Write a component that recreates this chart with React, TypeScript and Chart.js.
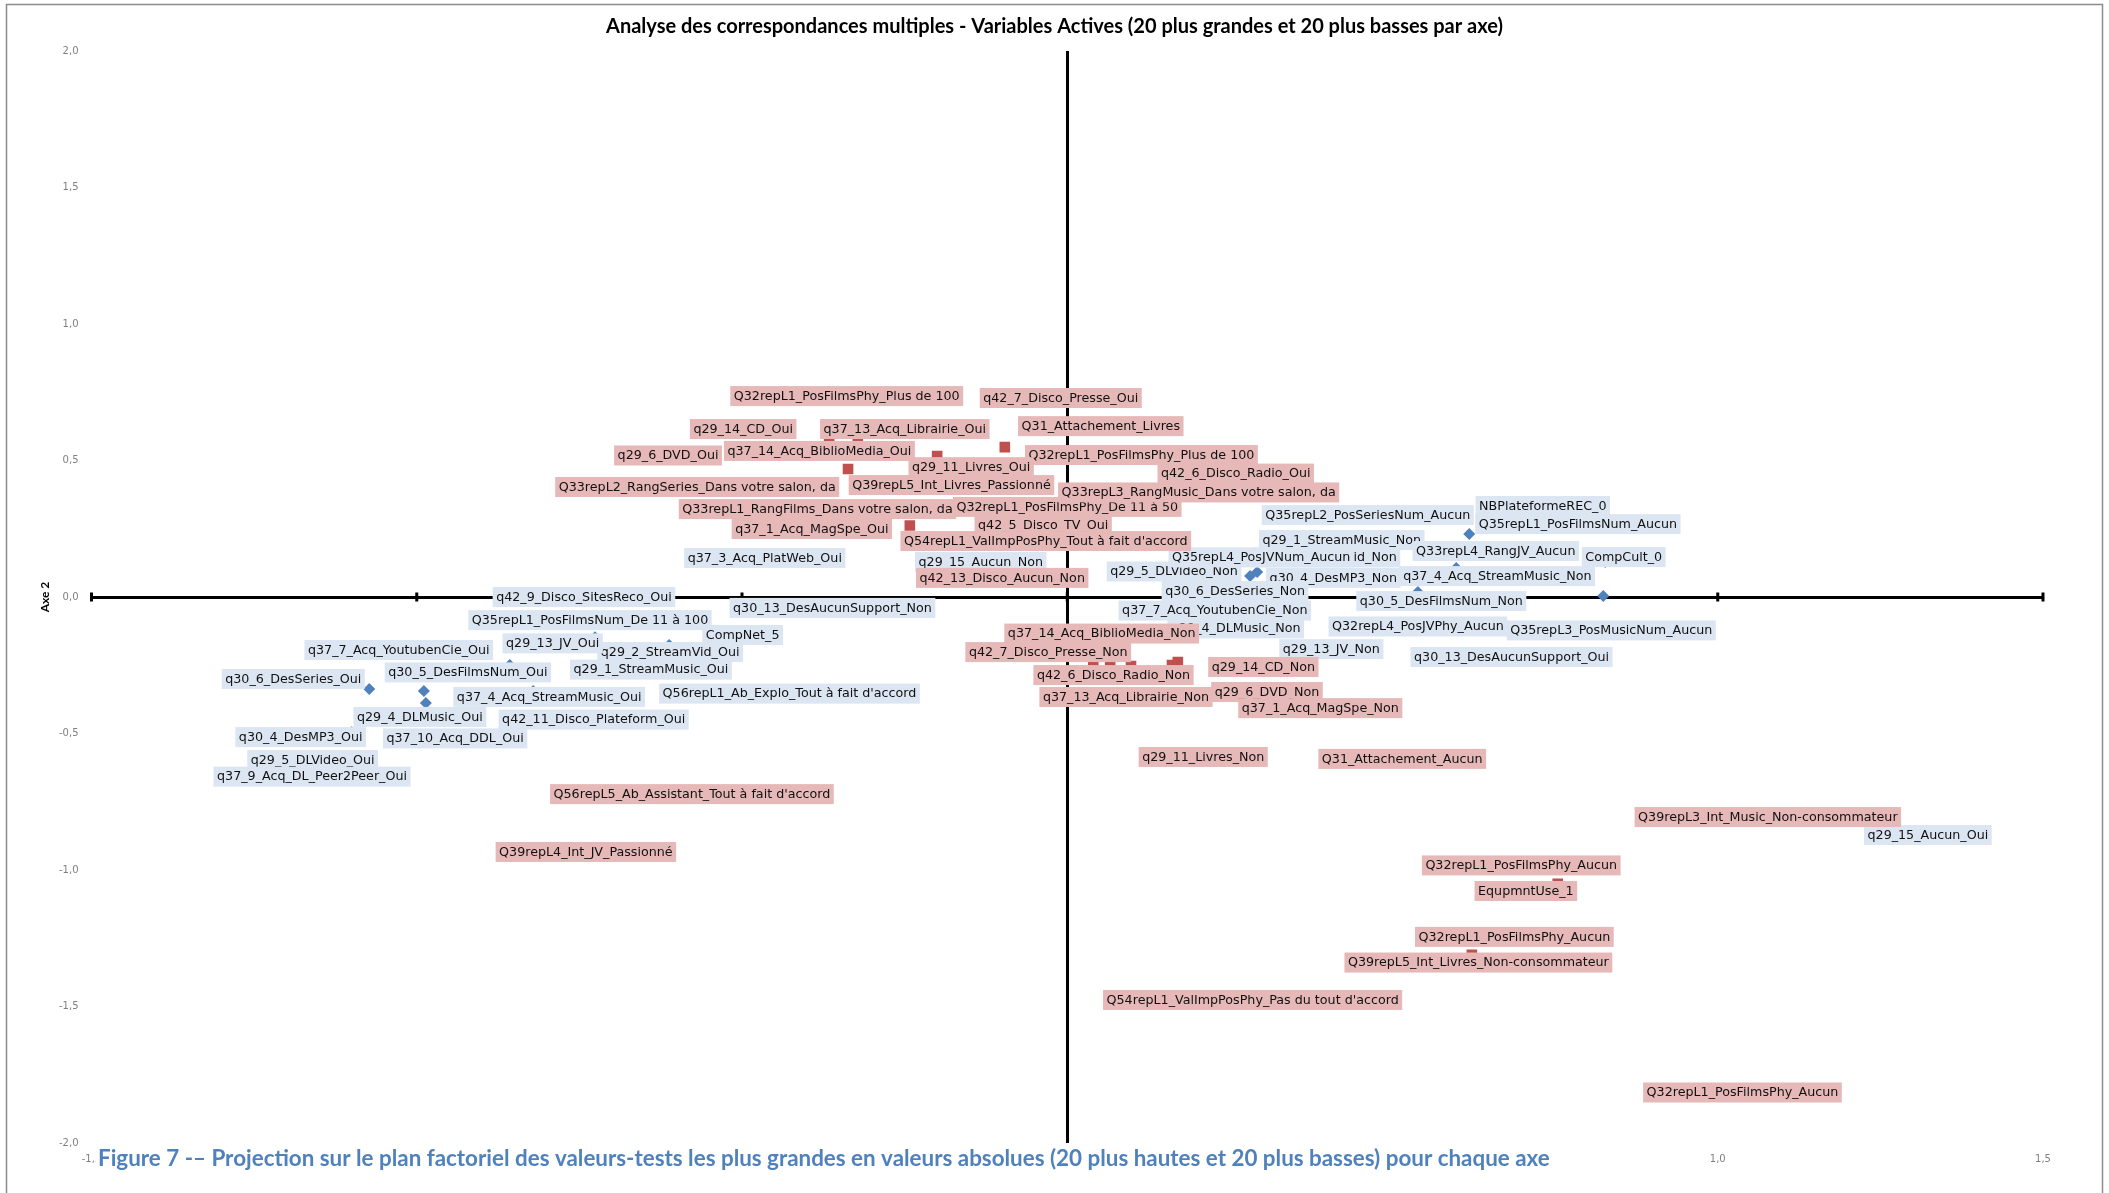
import React, { useEffect, useRef } from "react";
import { Chart, registerables } from "chart.js";

Chart.register(...registerables);

// ---------- texts ----------
const chartTitle =
  "Analyse des correspondances multiples - Variables Actives (20 plus grandes et 20 plus basses par axe)";
const figureCaption =
  "Figure 7 -– Projection sur le plan factoriel des valeurs-tests les plus grandes en valeurs absolues (20 plus hautes et 20 plus basses) pour chaque axe";
const yAxisTitle = "Axe 2";

// ---------- tick labels ----------
const xTickLabels = ["-1,5", "-1,0", "-0,5", "0,0", "0,5", "1,0", "1,5"];
const yTickLabels = ["-2,0", "-1,5", "-1,0", "-0,5", "0,0", "0,5", "1,0", "1,5", "2,0"];

// ---------- blue series ----------
const blueNames = [
  "q37_3_Acq_PlatWeb_Oui",
  "q29_15_Aucun_Non",
  "q42_9_Disco_SitesReco_Oui",
  "q30_13_DesAucunSupport_Non",
  "Q35repL1_PosFilmsNum_De 11 à 100",
  "CompNet_5",
  "q29_2_StreamVid_Oui",
  "q29_13_JV_Oui",
  "q37_7_Acq_YoutubenCie_Oui",
  "q29_1_StreamMusic_Oui",
  "q30_5_DesFilmsNum_Oui",
  "q30_6_DesSeries_Oui",
  "Q56repL1_Ab_Explo_Tout à fait d'accord",
  "q37_4_Acq_StreamMusic_Oui",
  "q29_4_DLMusic_Oui",
  "q42_11_Disco_Plateform_Oui",
  "q30_4_DesMP3_Oui",
  "q37_10_Acq_DDL_Oui",
  "q29_5_DLVideo_Oui",
  "q37_9_Acq_DL_Peer2Peer_Oui",
  "Q35repL2_PosSeriesNum_Aucun",
  "NBPlateformeREC_0",
  "Q35repL1_PosFilmsNum_Aucun",
  "q29_1_StreamMusic_Non",
  "Q33repL4_RangJV_Aucun",
  "CompCult_0",
  "q29_2_StreamVid_Non",
  "q29_5_DLVideo_Non",
  "q30_4_DesMP3_Non",
  "Q35repL4_PosJVNum_Aucun",
  "q37_4_Acq_StreamMusic_Non",
  "q30_6_DesSeries_Non",
  "q30_5_DesFilmsNum_Non",
  "q37_7_Acq_YoutubenCie_Non",
  "q29_4_DLMusic_Non",
  "Q32repL4_PosJVPhy_Aucun",
  "Q35repL3_PosMusicNum_Aucun",
  "q29_13_JV_Non",
  "q30_13_DesAucunSupport_Oui",
  "q29_15_Aucun_Oui",
];
const blueAxe1 = [
  -0.465, -0.133, -0.743, -0.361, -0.726, -0.499, -0.612, -0.791, -0.857, -0.64,
  -0.989, -1.073, -0.427, -0.821, -0.986, -0.728, -1.1, -0.941, -1.16, -1.161,
  0.462, 0.618, 0.785, 0.435, 0.598, 0.827, 0.397, 0.281, 0.409, 0.292,
  0.539, 0.178, 0.575, 0.246, 0.259, 0.539, 0.824, 0.406, 0.683, 1.323,
];
const blueAxe2 = [
  0.143, 0.128, 0.0, -0.04, -0.147, -0.139, -0.176, -0.17, -0.249, -0.266,
  -0.344, -0.337, -0.354, -0.344, -0.388, -0.449, -0.495, -0.518, -0.597, -0.658,
  0.3, 0.231, 0.267, 0.161, 0.106, 0.128, 0.145, 0.077, 0.07, 0.092,
  0.018, 0.033, -0.015, 0.029, -0.115, -0.108, 0.004, -0.191, -0.22, -0.872,
];

// ---------- red series ----------
const redNames = [
  "Q32repL1_PosFilmsPhy_Plus de 100",
  "q42_7_Disco_Presse_Oui",
  "q29_14_CD_Oui",
  "q37_13_Acq_Librairie_Oui",
  "Q31_Attachement_Livres",
  "q29_6_DVD_Oui",
  "q37_14_Acq_BiblioMedia_Oui",
  "Q32repL1_PosFilmsPhy_Plus de 100",
  "q29_11_Livres_Oui",
  "q42_6_Disco_Radio_Oui",
  "Q33repL2_RangSeries_Dans votre salon, da",
  "Q39repL5_Int_Livres_Passionné",
  "Q32repL1_PosFilmsPhy_De 11 à 50",
  "Q33repL3_RangMusic_Dans votre salon, da",
  "Q33repL1_RangFilms_Dans votre salon, da",
  "q37_1_Acq_MagSpe_Oui",
  "q42_5_Disco_TV_Oui",
  "Q54repL1_ValImpPosPhy_Tout à fait d'accord",
  "q42_13_Disco_Aucun_Non",
  "q37_14_Acq_BiblioMedia_Non",
  "q42_7_Disco_Presse_Non",
  "q29_14_CD_Non",
  "q42_6_Disco_Radio_Non",
  "q29_6_DVD_Non",
  "q37_13_Acq_Librairie_Non",
  "q37_1_Acq_MagSpe_Non",
  "q29_11_Livres_Non",
  "Q31_Attachement_Aucun",
  "Q56repL5_Ab_Assistant_Tout à fait d'accord",
  "Q39repL4_Int_JV_Passionné",
  "Q39repL3_Int_Music_Non-consommateur",
  "Q32repL1_PosFilmsPhy_Aucun",
  "EqupmntUse_1",
  "Q32repL1_PosFilmsPhy_Aucun",
  "Q39repL5_Int_Livres_Non-consommateur",
  "Q54repL1_ValImpPosPhy_Pas du tout d'accord",
  "Q32repL1_PosFilmsPhy_Aucun",
];
const redAxe1 = [
  -0.339, -0.01, -0.366, -0.322, -0.096, -0.337, -0.381, 0.114, -0.2, 0.259,
  -0.359, -0.178, 0.0, 0.202, -0.384, -0.242, -0.037, -0.033, -0.1, 0.066,
  0.04, 0.17, 0.098, 0.307, 0.161, 0.389, 0.209, 0.515, -0.577, -0.74,
  1.077, 0.754, 0.705, 0.622, 0.632, 0.285, 1.038,
];
const redAxe2 = [
  0.736, 0.729, 0.564, 0.564, 0.549, 0.469, 0.535, 0.52, 0.516, 0.452,
  0.414, 0.41, 0.33, 0.383, 0.322, 0.262, 0.264, 0.205, 0.07, -0.253,
  -0.253, -0.238, -0.253, -0.348, -0.249, -0.407, -0.586, -0.593, -0.722, -0.934,
  -0.806, -1.051, -1.077, -1.311, -1.339, -1.476, -1.815,
];

// ---------- label placement (pixel shift of each data label from its marker) ----------
const blueLabelShift: [number, number][] = [
  [0, 0], [0, 0], [0, 0], [0, 0], [-5, -17], [0, 0], [1, 7], [0, 0], [-111, -15], [0, 0],
  [44, -18.5], [-76, -10], [0, 0], [16, 6], [-6, 14], [0, 0], [-51, 5], [0, 0], [0, 0], [0, 0],
  [0, 0], [73.5, -28], [0, 0], [-8.5, -13], [39.5, -17], [18.5, -5], [0, 0], [-76, -4.5], [0, 0], [4, -14.5],
  [79.5, -16], [52, 3], [0, 0], [-12.5, 21.5], [0, 0], [0, 0], [8, 34.5], [0, 0], [0, 0], [0, 0],
];
const redLabelShift: [number, number][] = [
  [0, 0], [0, 0], [-86, -14], [47, -14], [96, -21], [-180, -13.5], [0, 0], [0, 0], [34, 11], [0, 0],
  [-136.5, 3], [0, 0], [0, 0], [0, 0], [0, 0], [-98, 3.5], [0, 0], [0, 0], [0, 0], [-8.5, -32.5],
  [-45, -14], [85.5, 5], [-17.5, 9], [0, 0], [-46, 32], [0, 0], [0, 0], [0, 0], [0, 0], [0, 0],
  [0, 0], [-36.5, -18.5], [0, 0], [42.5, -18], [0, 0], [0, 0], [0, 0],
];

const BLUE = "#4F81BD";
const RED = "#C0504D";
const BLUE_LABEL_BG = "#DCE6F2";
const RED_LABEL_BG = "#E6B9B8";
const LABEL_FONT = '12.7px "DejaVu Sans"';
const TICK_COLOR = "#7f7f7f";

const series = [
  { names: blueNames, shift: blueLabelShift, bg: BLUE_LABEL_BG },
  { names: redNames, shift: redLabelShift, bg: RED_LABEL_BG },
];

// cross tick marks on the horizontal axis (Excel "cross" major ticks)
const axisCrossTicks = {
  id: "axisCrossTicks",
  beforeDatasetsDraw(chart: any) {
    const { ctx, scales } = chart;
    const xs = scales.x;
    const y0 = scales.y.getPixelForValue(0);
    ctx.save();
    ctx.fillStyle = "#000";
    xs.ticks.forEach((t: any) => {
      const px = xs.getPixelForValue(t.value);
      ctx.fillRect(px - 1.5, y0 - 4.5, 3, 9);
    });
    ctx.restore();
  },
};

const dataLabels = {
  id: "dataLabels",
  afterDatasetsDraw(chart: any) {
    const ctx = chart.ctx;
    ctx.save();
    ctx.font = LABEL_FONT;
    ctx.textAlign = "center";
    ctx.textBaseline = "middle";
    series.forEach((s, di) => {
      const meta = chart.getDatasetMeta(di);
      s.names.forEach((txt, i) => {
        const el = meta.data[i];
        if (!el) return;
        const [dx, dy] = s.shift[i];
        const cx = el.x + dx;
        const cy = el.y + dy;
        const w = ctx.measureText(txt).width + 7;
        ctx.fillStyle = s.bg;
        ctx.fillRect(cx - w / 2, cy - 10, w, 20);
        ctx.fillStyle = "#111";
        ctx.fillText(txt, cx, cy + 0.5);
      });
    });
    ctx.restore();
  },
};

const frameAndTexts = {
  id: "frameAndTexts",
  afterDraw(chart: any) {
    const { ctx, width } = chart;
    ctx.save();
    // outer chart border
    ctx.strokeStyle = "#8c8c8c";
    ctx.lineWidth = 1.5;
    ctx.strokeRect(6.5, 4.5, width - 13, 1300);
    // title
    ctx.fillStyle = "#000";
    ctx.font = "bold 20px Lato";
    ctx.textAlign = "center";
    ctx.textBaseline = "middle";
    ctx.fillText(chartTitle, width / 2, 27);
    // caption (overlapping the bottom axis labels)
    ctx.font = "bold 22.4px Lato";
    const cw = ctx.measureText(figureCaption).width;
    ctx.fillStyle = "#fff";
    ctx.fillRect(96, 1146, cw + 6, 27);
    ctx.fillStyle = "#4F81BD";
    ctx.textAlign = "left";
    ctx.fillText(figureCaption, 98, 1159);
    ctx.restore();
  },
};

export default function App() {
  const canvasRef = useRef<HTMLCanvasElement | null>(null);

  useEffect(() => {
    if (!canvasRef.current) return;
    const zeroLine = (c: any) =>
      c.tick && Math.abs(c.tick.value) < 1e-9 ? "#000" : "rgba(0,0,0,0)";
    const chart = new Chart(canvasRef.current, {
      type: "scatter",
      data: {
        datasets: [
          {
            label: "Variables actives (bleu)",
            data: blueAxe1.map((x, i) => ({ x, y: blueAxe2[i] })),
            pointStyle: "rectRot",
            pointRadius: 6,
            backgroundColor: BLUE,
            borderColor: BLUE,
            borderWidth: 0,
          },
          {
            label: "Variables actives (rouge)",
            data: redAxe1.map((x, i) => ({ x, y: redAxe2[i] })),
            pointStyle: "rect",
            pointRadius: 7.5,
            backgroundColor: RED,
            borderColor: RED,
            borderWidth: 0,
          },
        ],
      },
      options: {
        animation: false,
        responsive: true,
        maintainAspectRatio: false,
        events: [],
        layout: { padding: { top: 51, right: 66, left: 0, bottom: 0 } },
        plugins: {
          legend: { display: false },
          tooltip: { enabled: false },
          title: { display: false },
        },
        scales: {
          x: {
            type: "linear",
            position: "bottom",
            min: -1.5,
            max: 1.5,
            ticks: {
              stepSize: 0.5,
              autoSkip: false,
              maxRotation: 0,
              padding: 10,
              color: TICK_COLOR,
              font: { family: "DejaVu Sans", size: 10 },
              callback: (_v: any, i: number) => xTickLabels[i],
            },
            grid: { color: zeroLine, lineWidth: 3, drawTicks: false },
            border: { display: false },
            afterFit: (s: any) => {
              s.height = 50;
            },
          },
          y: {
            type: "linear",
            position: "left",
            min: -2,
            max: 2,
            ticks: {
              stepSize: 0.5,
              autoSkip: false,
              padding: 13,
              color: TICK_COLOR,
              font: { family: "DejaVu Sans", size: 10 },
              callback: (_v: any, i: number) => yTickLabels[i],
            },
            grid: { color: zeroLine, lineWidth: 3, drawTicks: false },
            border: { display: false },
            title: {
              display: true,
              text: yAxisTitle,
              color: "#000",
              font: { family: "Lato", weight: "bold", size: 12 },
              padding: { top: 38, bottom: 0 },
            },
            afterFit: (s: any) => {
              s.width = 91.5;
            },
          },
        },
      } as any,
      plugins: [axisCrossTicks, dataLabels, frameAndTexts],
    });
    return () => chart.destroy();
  }, []);

  return (
    <div
      style={{
        position: "fixed",
        left: 0,
        top: 0,
        width: 2109,
        height: 1193,
        background: "#fff",
      }}
    >
      <canvas ref={canvasRef} style={{ display: "block" }} />
    </div>
  );
}
